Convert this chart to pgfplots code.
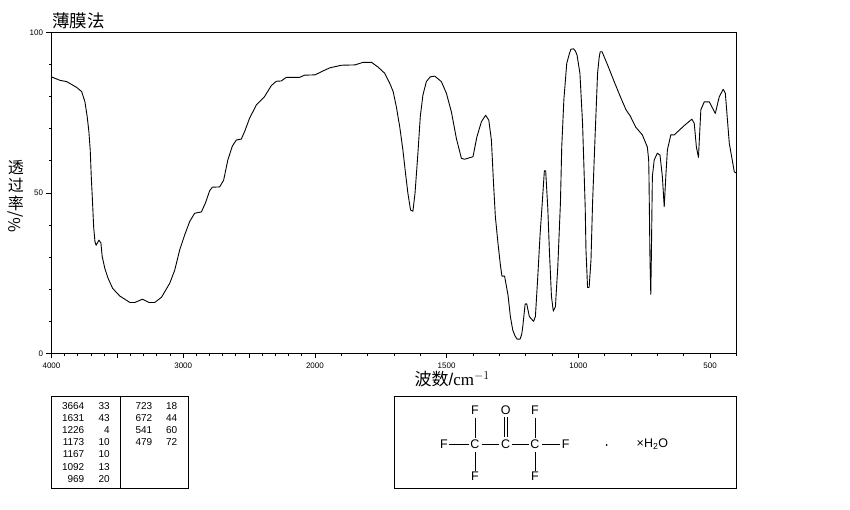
\documentclass[border=0pt]{standalone}
\usepackage{fontspec}
\setmainfont{Liberation Sans}
\newfontfamily\cjk{Noto Sans CJK SC}
\newfontfamily\serifl{Liberation Serif}
\usepackage{pgfplots}
\usepackage{pgfplotstable}
\pgfplotsset{compat=1.18}
\pgfplotstableread{
wn T
3996 86.1
3936 85.1
3885 84.7
3809 82.9
3771 81.6
3746 78.4
3729 73.8
3716 69.1
3706 63.4
3698 55.1
3688 46.8
3680 39.5
3670 34.8
3661 33.7
3640 35.3
3625 34.5
3615 30.2
3595 26.5
3570 23.4
3536 20.3
3481 17.9
3405 15.9
3367 15.9
3309 16.9
3259 15.9
3216 15.9
3165 17.5
3102 21.9
3064 26.0
3027 32.2
2989 36.9
2951 41.1
2913 43.7
2862 44.1
2832 46.8
2799 50.7
2779 51.8
2723 51.9
2693 54.0
2661 60.3
2627 64.6
2597 66.5
2559 66.8
2534 69.1
2496 73.3
2445 77.4
2383 80.0
2332 83.4
2294 84.8
2256 84.9
2218 86.0
2117 86.0
2079 86.7
2000 86.8
1962 88.3
1943 89.0
1899 89.8
1848 89.9
1817 90.7
1785 90.7
1760 89.2
1735 87.3
1716 84.2
1703 81.6
1691 76.9
1678 70.6
1666 63.4
1656 56.1
1647 49.9
1637 44.7
1628 44.3
1620 49.9
1609 62.4
1600 73.8
1590 80.5
1577 84.7
1562 86.2
1545 86.4
1520 84.7
1501 81.1
1482 75.3
1463 67.0
1444 60.8
1432 60.5
1400 61.3
1385 67.5
1368 72.2
1352 74.2
1340 72.7
1330 66.5
1322 53.0
1315 42.6
1305 34.3
1296 27.6
1290 24.1
1280 24.1
1267 18.2
1258 11.5
1249 7.3
1241 5.6
1233 4.5
1221 4.5
1215 6.0
1211 8.3
1202 15.4
1196 15.5
1186 11.5
1170 10.0
1163 11.5
1154 23.9
1145 37.4
1138 45.7
1129 56.9
1124 56.9
1116 45.3
1110 32.2
1102 17.7
1095 13.2
1087 14.6
1078 27.0
1068 46.9
1063 64.4
1055 79.0
1044 90.4
1034 93.4
1028 94.8
1018 94.9
1011 94.2
1005 93.0
994 87.3
984 71.7
978 56.1
974 45.7
971 32.2
965 20.6
959 20.6
952 29.1
946 46.9
937 66.5
927 87.3
921 92.2
917 94.0
910 94.0
889 89.9
864 84.7
838 79.5
819 75.9
803 74.0
782 70.5
757 68.1
738 64.3
733 60.3
732 56.1
728 29.1
725 18.4
723 29.1
719 55.1
712 60.3
700 62.4
690 61.8
681 55.1
674 45.7
668 55.1
662 63.4
649 68.1
636 68.1
598 71.0
569 73.0
560 71.7
552 64.4
544 61.1
535 75.9
522 78.4
503 78.4
480 74.8
465 80.0
450 82.3
442 81.1
427 65.5
408 56.6
400 56.2
}\spectrum
\begin{document}
\begin{tikzpicture}
\path[use as bounding box] (0,0) rectangle (850pt,510pt);
\begin{axis}[
  at={(51.5pt,156.5pt)}, anchor=south west,
  scale only axis, width=684.9pt, height=321pt,
  x dir=reverse, xmin=-1200, xmax=4000, ymin=0, ymax=100,
  axis line style={line width=0.9pt},
  tick style={black, line width=0.8pt},
  tick align=outside, tick pos=lower,
  major tick length=5pt, minor tick length=2.5pt,
  xtick={4000,3500,3000,2500,2000,1000,0,-1000},
  xticklabels={4000,,3000,,2000,1500,1000,500},
  minor xtick={3900,3800,3700,3600,3400,3300,3200,3100,2900,2800,2700,2600,2400,2300,2200,2100,1800,1600,1400,1200,800,600,400,200,-200,-400,-600,-800,-1200},
  ytick={0,50,100},
  minor ytick={10,20,30,40,60,70,80,90},
  /pgf/number format/assume math mode=true,
  tick label style={font=\fontsize{8}{9}\selectfont},
  xticklabel style={yshift=-0.5pt},
  title={\cjk 薄膜法},
  title style={at={(axis description cs:0,1)}, anchor=south west, inner sep=0pt, xshift=0.5pt, yshift=-3pt, font=\fontsize{17.5}{19}\selectfont},
  xlabel={{\cjk 波数}/{\serifl cm$^{-1}$}},
  every axis x label/.style={at={(axis description cs:0.585,-0.081)}, anchor=center, font=\fontsize{17}{19}\selectfont},
  ylabel={透\\过\\率\\\rotatebox{90}{\%/}},
  every axis y label/.style={at={(axis description cs:-0.052,0.49)}, anchor=center, align=center, font=\cjk\fontsize{16}{18}\selectfont},
]
\addplot[black, line width=0.9pt, line join=round, no marks] table[x expr={\thisrow{wn}>2000 ? \thisrow{wn} : 2*\thisrow{wn}-2000}, y=T] {\spectrum};
\end{axis}
\begin{scope}[x=1pt,y=-1pt,yshift=510pt]
  \draw[line width=0.9pt] (51.5,396.5) rectangle (188.5,488);
  \draw[line width=0.9pt] (120.5,396.5) -- (120.5,488);
  \draw[line width=0.9pt] (394,396.5) rectangle (736.5,488);
  \tikzset{tb/.style={anchor=east, inner sep=0pt, font=\fontsize{10}{10}\selectfont}}
  \foreach \y/\a/\b in {405.7/3664/33,417.9/1631/43,430.4/1226/4,442.5/1173/10,454.5/1167/10,467/1092/13,479.5/969/20}
    {\node[tb] at (84.5,\y) {\a}; \node[tb] at (110,\y) {\b};}
  \foreach \y/\a/\b in {405.7/723/18,417.9/672/44,430.4/541/60,442.5/479/72}
    {\node[tb] at (152.5,\y) {\a}; \node[tb] at (177.5,\y) {\b};}
  \tikzset{atomlbl/.style={inner sep=0pt, font=\fontsize{12.5}{13}\selectfont}}
  \foreach \x/\y/\t in {475/410.7/F,505.7/410.7/O,535/410.7/F,444/444/F,475/444/C,505.7/444/C,535/444/C,565.7/444/F,475/476.7/F,535/476.7/F}
    \node[atomlbl] at (\x,\y) {\t};
  \draw[line width=0.6pt] (475,417.7)--(475,438) (475,451.7)--(475,470.7) (535,417.7)--(535,438) (535,451.7)--(535,470.7)
    (449,444)--(469,444) (481.7,444)--(499,444) (512,444)--(529,444) (541.7,444)--(559.5,444)
    (504.2,417.3)--(504.2,437.3) (507,417.3)--(507,437.3);
  \fill (606.7,445) circle (1);
  \node[inner sep=0pt, anchor=west, font=\fontsize{12.5}{13}\selectfont] at (636.5,444.5) {×H$_{\mathrm{2}}$O};
\end{scope}
\end{tikzpicture}
\end{document}
